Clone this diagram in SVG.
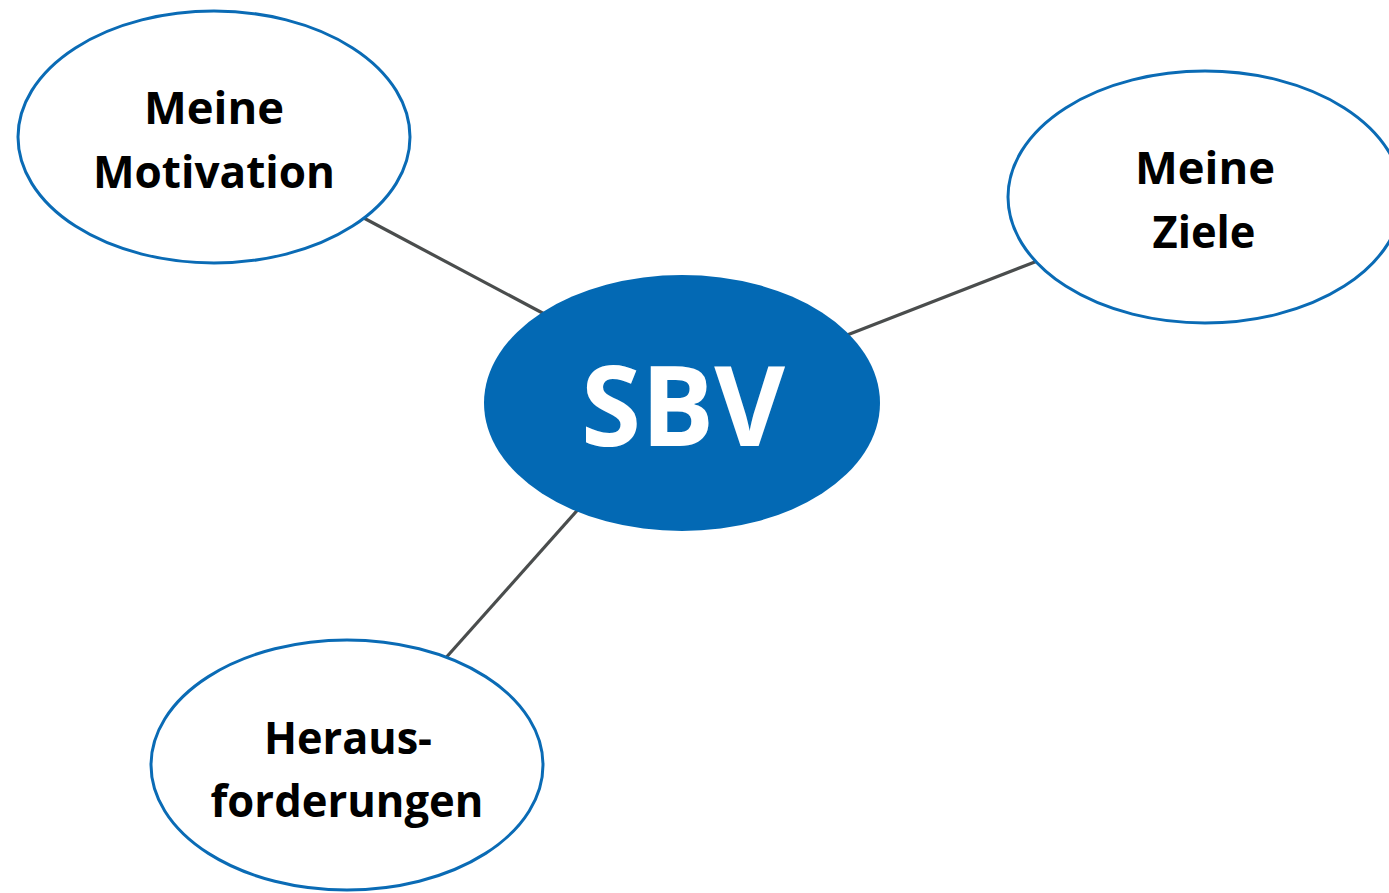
<svg xmlns="http://www.w3.org/2000/svg" width="1389" height="893" viewBox="0 0 1389 893">
<style>
.n{fill:#fff;stroke:#0a6bb5;stroke-width:3}
.c{stroke:#4a4d4d;stroke-width:3.2;fill:none}
.t{font-family:"Open Sans","Liberation Sans",sans-serif;font-weight:bold;font-size:45px;fill:#000;text-anchor:middle}
.s{font-family:"Open Sans","Liberation Sans",sans-serif;font-weight:bold;font-size:112px;fill:#fff;text-anchor:middle}
</style>
<rect width="1389" height="893" fill="#fff"/>
<g id="connectors">
<line class="c" x1="360" y1="216" x2="550" y2="317"/>
<line class="c" x1="842" y1="337" x2="1040" y2="260"/>
<line class="c" x1="582" y1="505" x2="443" y2="661"/>
</g>
<g id="motivation">
<ellipse class="n" cx="214" cy="137" rx="196" ry="126"/>
<text class="t" x="214" y="124" textLength="140" lengthAdjust="spacingAndGlyphs">Meine</text>
<text class="t" x="214" y="188" textLength="242" lengthAdjust="spacingAndGlyphs">Motivation</text>
</g>
<g id="ziele">
<ellipse class="n" cx="1205" cy="197" rx="197" ry="126"/>
<text class="t" x="1205" y="184" textLength="140" lengthAdjust="spacingAndGlyphs">Meine</text>
<text class="t" x="1204" y="248" textLength="103" lengthAdjust="spacingAndGlyphs">Ziele</text>
</g>
<g id="herausforderungen">
<ellipse class="n" cx="347" cy="765" rx="196" ry="125"/>
<text class="t" x="348" y="754" textLength="168" lengthAdjust="spacingAndGlyphs">Heraus-</text>
<text class="t" x="347" y="817" textLength="273" lengthAdjust="spacingAndGlyphs">forderungen</text>
</g>
<g id="sbv">
<ellipse cx="682" cy="403" rx="198" ry="128" fill="#0369b4"/>
<text class="s" x="683" y="446" textLength="204" lengthAdjust="spacingAndGlyphs">SBV</text>
</g>
</svg>
